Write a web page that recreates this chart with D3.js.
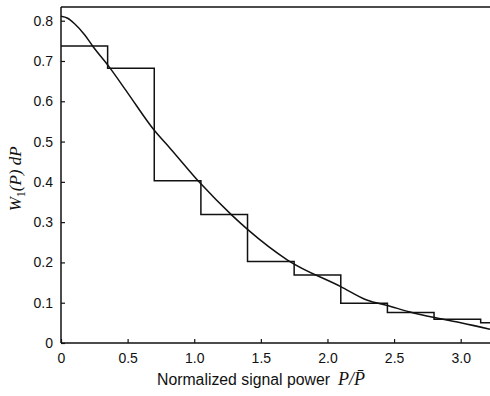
<!DOCTYPE html>
<html lang="en">
<head>
  <meta charset="UTF-8">
  <title>Signal power distribution</title>
  <style>
    body { margin: 0; background: #fff; }
    svg { display: block; }
    .tick text { font-family: "Liberation Sans", Arial, sans-serif; font-size: 14px; fill: #111; }
  </style>
</head>
<body>
<div id="chart"></div>

<script src="https://cdn.jsdelivr.net/npm/d3@7"></script>
<script>
  // histogram bins (width 0.35)
  const binEdges = [0, 0.35, 0.7, 1.05, 1.4, 1.75, 2.1, 2.45, 2.8, 3.15, 3.5];
  const binHeights = [0.737, 0.682, 0.403, 0.319, 0.202, 0.169, 0.0985, 0.076, 0.059, 0.05];

  // smooth theoretical curve
  const curveP = [0, 0.05, 0.1, 0.18, 0.24, 0.36, 0.5, 0.7, 0.82, 1.05, 1.28, 1.4, 1.7, 2.1, 2.3, 2.45, 2.62, 2.82, 3.0, 3.22];
  const curveW = [0.811, 0.806, 0.793, 0.764, 0.736, 0.686, 0.621, 0.528, 0.483, 0.395, 0.318, 0.282, 0.206, 0.14, 0.106, 0.093, 0.077, 0.062, 0.05, 0.034];

  const xTicks = [0, 0.5, 1.0, 1.5, 2.0, 2.5, 3.0];
  const yTicks = [0, 0.1, 0.2, 0.3, 0.4, 0.5, 0.6, 0.7, 0.8];

  const W = 490, H = 396;
  const margin = {top: 7, right: 0, bottom: 53, left: 61},
    width = W - margin.left - margin.right,
    height = H - margin.top - margin.bottom;

  const svg = d3.select("#chart")
    .append("svg")
    .attr("width", W)
    .attr("height", H)
    .append("g")
    .attr("transform", "translate(" + margin.left + "," + margin.top + ")");

  const x = d3.scaleLinear().domain([0, 3.22]).range([0, width]);
  const y = d3.scaleLinear().domain([0, 0.834]).range([height, 0]);

  svg.append("defs").append("clipPath").attr("id", "clip")
    .append("rect").attr("width", width).attr("height", height);

  // X axis (ticks point inward)
  const xAxis = svg.append("g")
    .attr("transform", "translate(0," + height + ")")
    .call(d3.axisBottom(x).tickValues(xTicks).tickSize(-4).tickPadding(10)
      .tickFormat(d => d === 0 ? "0" : d3.format(".1f")(d)));
  xAxis.select(".domain").remove();

  // Y axis
  const yAxis = svg.append("g")
    .call(d3.axisLeft(y).tickValues(yTicks).tickSize(-4).tickPadding(8)
      .tickFormat(d => d === 0 ? "0" : d3.format(".1f")(d)));
  yAxis.select(".domain").remove();
  svg.selectAll(".tick line").attr("stroke", "#111").attr("stroke-width", 1.2);

  // frame: left, bottom, top
  const frame = svg.append("g").attr("stroke", "#111").attr("stroke-width", 1.5).attr("fill", "none");
  frame.append("line").attr("x1", 0).attr("x2", 0).attr("y1", y(0.834)).attr("y2", y(0));
  frame.append("line").attr("x1", 0).attr("x2", width).attr("y1", y(0)).attr("y2", y(0));
  frame.append("line").attr("x1", 0).attr("x2", width).attr("y1", y(0.834)).attr("y2", y(0.834));

  // histogram as a step line
  const steps = binHeights.map((h, i) => [binEdges[i], h]);
  steps.push([binEdges[binEdges.length - 1], binHeights[binHeights.length - 1]]);
  svg.append("path")
    .datum(steps)
    .attr("clip-path", "url(#clip)")
    .attr("fill", "none")
    .attr("stroke", "#111")
    .attr("stroke-width", 1.5)
    .attr("d", d3.line().x(d => x(d[0])).y(d => y(d[1])).curve(d3.curveStepAfter));

  // theoretical curve
  svg.append("path")
    .datum(curveP.map((p, i) => [p, curveW[i]]))
    .attr("fill", "none")
    .attr("stroke", "#111")
    .attr("stroke-width", 1.5)
    .attr("d", d3.line().x(d => x(d[0])).y(d => y(d[1])).curve(d3.curveMonotoneX));

  // x label
  const xl = svg.append("text")
    .attr("x", 96)
    .attr("y", height + 42)
    .attr("font-family", "Liberation Sans, Arial, sans-serif")
    .attr("font-size", 15.8)
    .attr("fill", "#111");
  xl.append("tspan").text("Normalized signal power");
  xl.append("tspan").attr("dx", 8).attr("font-family", "Liberation Serif, serif").attr("font-style", "italic")
    .attr("font-size", 18).text("P/P\u0304");

  // y label
  const yl = svg.append("text")
    .attr("transform", "translate(" + (-40) + "," + (y(0.4) - 3) + ") rotate(-90)")
    .attr("text-anchor", "middle")
    .attr("font-family", "Liberation Serif, serif")
    .attr("font-style", "italic")
    .attr("font-size", 17)
    .attr("fill", "#111");
  yl.append("tspan").text("W");
  yl.append("tspan").attr("font-size", 12).attr("font-style", "normal").attr("dy", 4).text("1");
  yl.append("tspan").attr("dy", -4).text("(P) dP");
</script>
</body>
</html>
